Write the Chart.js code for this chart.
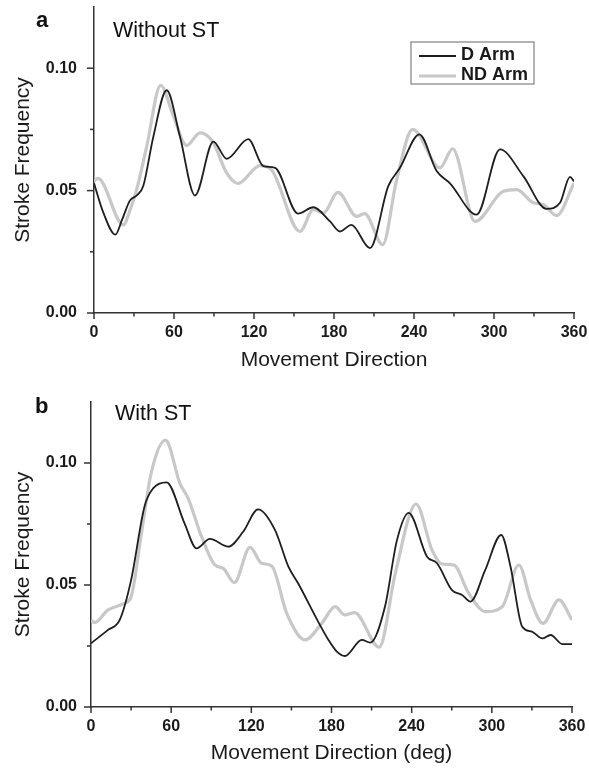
<!DOCTYPE html>
<html>
<head>
<meta charset="utf-8">
<script src="https://cdn.jsdelivr.net/npm/chart.js@4.4.0/dist/chart.umd.min.js"></script>
<style>
  body { margin: 0; background: #fff; font-family: "Liberation Sans", Arial, sans-serif; }
  #page { position: relative; width: 589px; height: 773px; overflow: hidden; }
  canvas { position: absolute; left: 0; }
  .tag { position: absolute; font-weight: bold; font-size: 22px; line-height: 22px; color: #111; }
  .sub { position: absolute; font-size: 21.5px; line-height: 21.5px; color: #111; }
</style>
</head>
<body>
<div id="page">
  <canvas id="chartA" width="589" height="380" style="top:0"></canvas>
  <canvas id="chartB" width="589" height="393" style="top:380px"></canvas>
  <div class="tag" style="left:36px;top:9px">a</div>
  <div class="sub" style="left:113px;top:20px">Without ST</div>
  <div class="tag" style="left:35px;top:395px">b</div>
  <div class="sub" style="left:115px;top:403px">With ST</div>
</div>
<script>
// ticks
const xMajorTicks = [0, 60, 120, 180, 240, 300, 360];
const xMinorTicks = [30, 90, 150, 210, 270, 330];
const yMajorTicks = [0, 0.05, 0.10];
const yMinorTicks = [0.025, 0.075];

const seriesNames = ['D Arm', 'ND Arm'];

// panel a: without ST
const aDArmDeg = [0, 7, 16, 21, 27, 32, 37, 44.5, 54.5, 64.5, 75.75, 89.5, 99.5, 115.7, 127, 135.75, 153, 164.5, 177, 184.5, 193, 207, 220.7, 229.5, 244, 257, 267, 287, 304.5, 322, 339.5, 349.5, 357, 360];
const aDArmVal = [0.053, 0.041, 0.032, 0.038, 0.046, 0.048, 0.052, 0.072, 0.091, 0.072, 0.048, 0.070, 0.063, 0.071, 0.060, 0.0593, 0.0406, 0.0432, 0.0374, 0.0333, 0.036, 0.0265, 0.0518, 0.0593, 0.073, 0.058, 0.053, 0.0402, 0.0668, 0.0559, 0.0425, 0.045, 0.0556, 0.0538];
const aNDArmDeg = [0, 3, 22, 27, 32, 39.5, 50, 59.5, 69.5, 79.5, 89, 99.5, 108, 124.5, 133, 154.5, 164.5, 172, 183, 197, 203, 216.5, 227, 239, 259.5, 269, 285.75, 307, 317, 329.5, 337, 347, 360];
const aNDArmVal = [0.054, 0.055, 0.036, 0.042, 0.0504, 0.068, 0.093, 0.0805, 0.0684, 0.0736, 0.070, 0.0572, 0.0529, 0.0602, 0.0586, 0.0333, 0.0422, 0.0409, 0.0493, 0.0395, 0.0406, 0.0279, 0.0545, 0.075, 0.0593, 0.0671, 0.0374, 0.0497, 0.0504, 0.045, 0.0443, 0.0398, 0.0531];

// panel b: with ST
const bDArmDeg = [0, 12.75, 21.5, 30, 40, 46.5, 56.5, 70, 79, 89, 102.75, 114, 125, 137.75, 147.75, 155, 170, 177.75, 184, 190, 202.75, 209, 220, 229, 237.75, 251.5, 259, 270, 277.75, 284, 295, 307, 314, 322.75, 330, 337.75, 344, 352.75, 360];
const bDArmVal = [0.0261, 0.0316, 0.0357, 0.052, 0.0821, 0.0896, 0.0921, 0.0753, 0.065, 0.0689, 0.0657, 0.0719, 0.081, 0.0725, 0.0575, 0.0507, 0.035, 0.0275, 0.0227, 0.0209, 0.0275, 0.0264, 0.0411, 0.0684, 0.0796, 0.0616, 0.0589, 0.048, 0.0459, 0.0432, 0.0561, 0.0705, 0.0575, 0.0329, 0.0309, 0.0281, 0.0295, 0.0258, 0.0258];
const bNDArmDeg = [0, 2.75, 12.75, 25, 30, 37.75, 45, 55.75, 66.5, 72.75, 82.75, 92.75, 99, 107.25, 119, 127.75, 135.25, 146.5, 160.25, 172.75, 182.75, 190, 197.25, 215.75, 227.75, 243.25, 255.25, 262.75, 271.5, 282.75, 295.25, 307.75, 320.25, 329, 338.25, 350.25, 360];
const bNDArmVal = [0.0357, 0.0346, 0.0398, 0.0425, 0.0452, 0.0712, 0.0958, 0.1094, 0.0917, 0.0855, 0.0698, 0.0582, 0.0568, 0.051, 0.0654, 0.0589, 0.0578, 0.0384, 0.0275, 0.0343, 0.0411, 0.0377, 0.0387, 0.0245, 0.0548, 0.0832, 0.0643, 0.0586, 0.0582, 0.0466, 0.0391, 0.0411, 0.0582, 0.0439, 0.0343, 0.0439, 0.0357];

const AXIS = '#333';
const FONT = '"Liberation Sans", Arial, sans-serif';
Chart.defaults.font.family = FONT;
Chart.defaults.color = '#1a1a1a';

const toPoints = (xs, ys) => xs.map((x, i) => ({ x: x, y: ys[i] }));

// tick marks: long for major, short for minor
const tickMarks = {
  id: 'tickMarks',
  afterDraw(chart) {
    const { ctx, scales: { x, y } } = chart;
    ctx.save();
    ctx.strokeStyle = AXIS;
    ctx.lineWidth = 1.5;
    const xt = (v, len) => {
      const px = x.getPixelForValue(v);
      ctx.beginPath(); ctx.moveTo(px, y.bottom); ctx.lineTo(px, y.bottom + len); ctx.stroke();
    };
    const yt = (v, len) => {
      const py = y.getPixelForValue(v);
      ctx.beginPath(); ctx.moveTo(x.left, py); ctx.lineTo(x.left - len, py); ctx.stroke();
    };
    xMajorTicks.forEach(v => xt(v, 6));
    xMinorTicks.forEach(v => xt(v, 3.5));
    yMajorTicks.forEach(v => yt(v, 7));
    yMinorTicks.forEach(v => yt(v, 4));
    ctx.restore();
  }
};

// boxed legend inside the plot
const boxLegend = {
  id: 'boxLegend',
  afterDraw(chart, args, opts) {
    if (!opts.show) return;
    const ctx = chart.ctx;
    const left = 411, top = 42, w = 123, h = 42;
    ctx.save();
    ctx.strokeStyle = '#808080';
    ctx.lineWidth = 1.2;
    ctx.strokeRect(left, top, w, h);
    ctx.font = 'bold 18px ' + FONT;
    ctx.textBaseline = 'middle';
    ctx.fillStyle = '#1a1a1a';
    chart.data.datasets.forEach((ds, i) => {
      const ly = top + 14 + i * 20;
      ctx.strokeStyle = ds.borderColor;
      ctx.lineWidth = ds.borderWidth;
      ctx.beginPath(); ctx.moveTo(left + 8, ly); ctx.lineTo(left + 45, ly); ctx.stroke();
      ctx.fillText(ds.label, left + 50, ly - 1);
    });
    ctx.restore();
  }
};

function makeChart(id, dArm, ndArm, xTitle, pad, yPad, showLegend) {
  return new Chart(document.getElementById(id), {
    type: 'line',
    data: {
      datasets: [
        { label: seriesNames[0], data: dArm, borderColor: '#1e1e1e', borderWidth: 1.8 },
        { label: seriesNames[1], data: ndArm, borderColor: '#c8c8c8', borderWidth: 3.2 }
      ]
    },
    options: {
      responsive: false,
      animation: false,
      layout: { padding: { top: pad.top, right: pad.right, left: 0, bottom: 0 } },
      elements: { point: { radius: 0 }, line: { cubicInterpolationMode: 'monotone', fill: false } },
      plugins: { legend: { display: false }, tooltip: { enabled: false }, boxLegend: { show: showLegend } },
      scales: {
        x: {
          type: 'linear', min: 0, max: 360,
          grid: { display: false, drawTicks: false },
          border: { display: true, color: AXIS, width: 1.5 },
          ticks: { stepSize: 60, padding: 10, color: '#1a1a1a', font: { size: 16, weight: 'bold' }, maxRotation: 0 },
          title: { display: true, text: xTitle, color: '#1a1a1a', font: { size: 21 }, padding: { top: 0, bottom: 7 } },
          afterFit: s => { s.height = pad.xh; s.paddingLeft = 0; s.paddingRight = 0; }
        },
        y: {
          min: 0, max: 0.125,
          grid: { display: false, drawTicks: false },
          border: { display: true, color: AXIS, width: 1.5 },
          ticks: { stepSize: 0.05, includeBounds: false, padding: yPad, color: '#1a1a1a', font: { size: 16, weight: 'bold' }, callback: v => v.toFixed(2) },
          title: { display: true, text: 'Stroke Frequency', color: '#1a1a1a', font: { size: 21 }, padding: { top: 11, bottom: 0 } },
          afterFit: s => { s.width = pad.yw; s.paddingTop = 0; s.paddingBottom = 0; }
        }
      }
    },
    plugins: [tickMarks, boxLegend]
  });
}

makeChart('chartA', toPoints(aDArmDeg, aDArmVal), toPoints(aNDArmDeg, aNDArmVal),
  'Movement Direction', { top: 7, right: 15, xh: 67, yw: 94 }, 17, true);
makeChart('chartB', toPoints(bDArmDeg, bDArmVal), toPoints(bNDArmDeg, bNDArmVal),
  'Movement Direction (deg)', { top: 22, right: 17, xh: 66, yw: 91 }, 14, false);
</script>
</body>
</html>
